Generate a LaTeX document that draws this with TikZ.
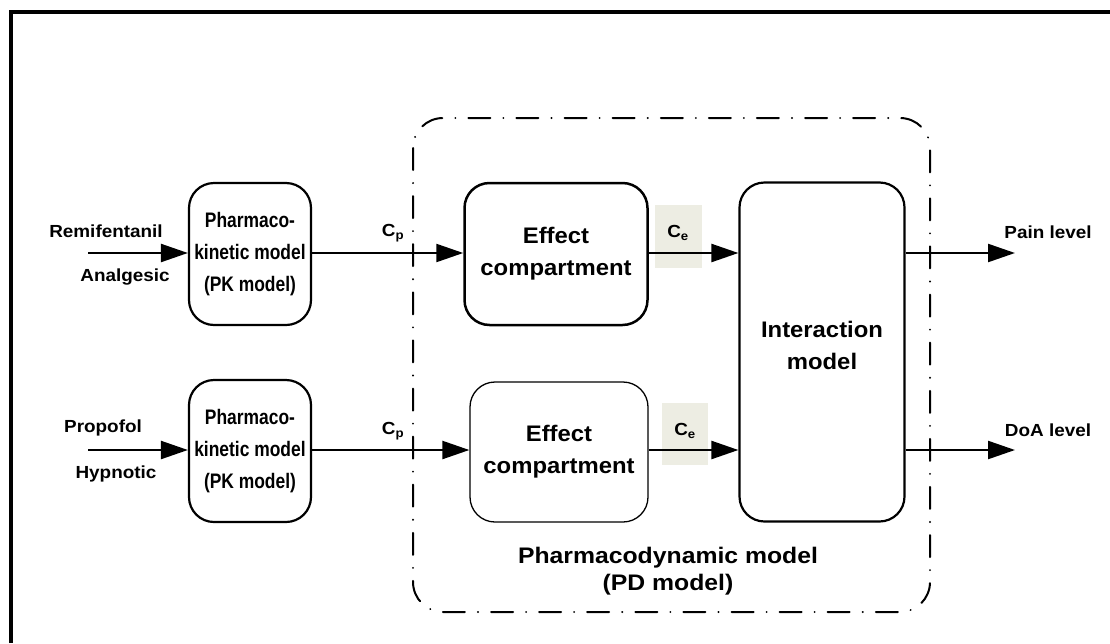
\documentclass[tikz,border=0pt]{standalone}
\usepackage{fontspec}
\setmainfont{Liberation Sans}
\newfontfamily\blockfont[FakeStretch=1.06]{Liberation Sans}
\newfontfamily\pkfont[FakeStretch=0.83]{Liberation Sans}
\newfontfamily\labelfont[FakeStretch=1.08]{Liberation Sans}
\newfontfamily\captionfont[FakeStretch=1.1]{Liberation Sans}
\usetikzlibrary{arrows.meta}
\definecolor{cbg}{RGB}{237,237,227}
\begin{document}
\begin{tikzpicture}[x=1pt,y=-1pt,
  box/.style={draw,line width=2.2pt,rounded corners=25pt,inner sep=0pt},
  boxtext/.style={align=center,inner sep=0pt,
    font=\blockfont\fontsize{22.5}{32}\selectfont\bfseries},
  pktext/.style={align=center,inner sep=0pt,
    font=\pkfont\fontsize{21}{32}\selectfont\bfseries},
  lbl/.style={font=\labelfont\fontsize{17.5}{20}\selectfont\bfseries,inner sep=0pt},
  arr/.style={line width=2.3pt,-{Triangle[length=27pt,width=18pt]}},
  pd/.style={line width=2pt,rounded corners=30pt,
    dash pattern=on 22pt off 13pt on 0.1pt off 13pt,line cap=round}]
\useasboundingbox (0,0) rectangle (1110,643);
% frame
\draw[line width=4pt] (11,643) -- (11,12) -- (1110,12);
% pharmacodynamic region
\draw[pd] (413,118) rectangle (930,612);
% blocks
\node[box,minimum width=122pt,minimum height=142pt] (pk1) at (250,254) {};
\node[box,minimum width=122pt,minimum height=142pt] (pk2) at (250,451) {};
\node[box,line width=2.5pt,minimum width=183pt,minimum height=142pt] (ef1) at (556,254) {};
\node[box,line width=1.3pt,minimum width=178pt,minimum height=140pt] (ef2) at (559,452) {};
\node[box,minimum width=165pt,minimum height=339pt] (int) at (822,352) {};
\node[pktext] (pk1t) at (pk1) {Pharmaco-\\kinetic model\\(PK model)};
\node[pktext] (pk2t) at (pk2) {Pharmaco-\\kinetic model\\(PK model)};
\node[boxtext] (ef1t) at (ef1) {Effect\\compartment};
\node[boxtext] (ef2t) at (ef2) {Effect\\compartment};
\node[boxtext] (intt) at (822,345) {Interaction\\model};
% concentration tags
\fill[cbg] (655,205) rectangle (702,268);
\fill[cbg] (662,403) rectangle (708,465);
% inputs
\coordinate (in1) at (88,253);
\coordinate (in2) at (88,450);
\draw[arr] (in1) -- (pk1.west |- in1);
\draw[arr] (in2) -- (pk2.west |- in2);
\node[lbl] (remi) at (106,231) {Remifentanil};
\node[lbl] (anal) at (125,277) {Analgesic};
\node[lbl] (prop) at (103,428) {Propofol};
\node[lbl] (hyp) at (116,474) {Hypnotic};
% plasma concentrations
\draw[arr] (pk1.east |- in1) -- (ef1.west |- in1);
\draw[arr] (pk2.east |- in2) -- (ef2.west |- in2);
\node[lbl] (cp1) at (393,233) {C\textsubscript{p}};
\node[lbl] (cp2) at (393,431) {C\textsubscript{p}};
% effect-site concentrations
\draw[arr] (ef1.east |- in1) -- (int.west |- in1);
\draw[arr] (ef2.east |- in2) -- (int.west |- in2);
\node[lbl] (ce1) at (678,233) {C\textsubscript{e}};
\node[lbl] (ce2) at (685,431) {C\textsubscript{e}};
% outputs
\coordinate (out1) at (1015,253);
\coordinate (out2) at (1015,450);
\draw[arr] (int.east |- out1) -- (out1);
\draw[arr] (int.east |- out2) -- (out2);
\node[lbl] (pain) at (1048,232) {Pain level};
\node[lbl] (doa) at (1048,430) {DoA level};
% region caption
\node[align=center,inner sep=0pt,font=\captionfont\fontsize{22.5}{27}\selectfont\bfseries] (pdl) at (668,571) {Pharmacodynamic model\\(PD model)};
\end{tikzpicture}
\end{document}
